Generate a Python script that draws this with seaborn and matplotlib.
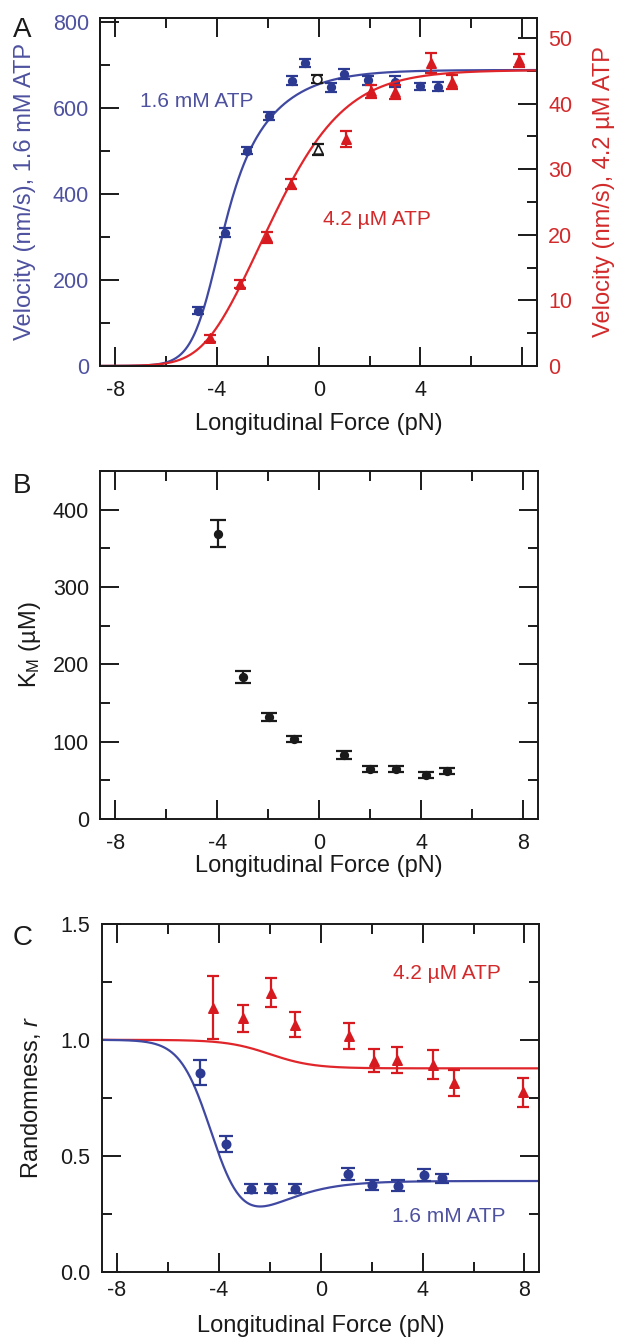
import numpy as np
import pandas as pd
import matplotlib
matplotlib.use("Agg")
import matplotlib.pyplot as plt
import seaborn as sns
from matplotlib.ticker import MultipleLocator, FormatStrFormatter

# colours
BLUE = "#2d3a92"
BLUE_LINE = "#4049a2"
BLUE_TEXT = "#4d519f"
RED = "#d61a20"
RED_LINE = "#e0262b"
RED_TEXT = "#d22a2b"
BLACK = "#1a1a1a"

# ---- Panel A: velocity vs longitudinal force ----
force_a_hi = [-4.76, -3.69, -2.81, -1.95, -1.06, -0.54, 0.50, 1.00, 1.95, 2.98, 4.00, 4.70]
vel_a_hi = [128, 310, 500, 581, 663, 704, 648, 679, 664, 661, 650, 649]
err_a_hi = [8, 10, 8, 10, 10, 10, 10, 12, 10, 12, 8, 10]

force_a_lo = [-4.27, -3.10, -2.05, -1.10, 1.07, 2.05, 2.98, 4.40, 5.25, 7.88]
vel_a_lo = [4.2, 12.5, 19.6, 27.7, 34.6, 41.9, 41.8, 46.2, 43.3, 46.6]
err_a_lo = [0.5, 0.6, 0.8, 0.8, 1.2, 1.0, 1.1, 1.5, 1.1, 1.0]

# open black points near zero force
force_ctrl_hi = [-0.05]
vel_ctrl_hi = [667]
err_ctrl_hi = [10]
force_ctrl_lo = [-0.02]
vel_ctrl_lo = [33.0]
err_ctrl_lo = [0.8]

# fit: v = vmax / (1 + a*exp(-k1*F) + b*exp(-k2*F))
FIT_A_HI = dict(vmax=688, a=1.4e-4, k1=2.21, b=0.0503, k2=0.68)
FIT_A_LO = dict(vmax=45.1, a=0.00207, k1=1.79, b=0.294, k2=0.65)

# ---- Panel B: K_M vs force ----
force_b = [-3.97, -2.99, -1.99, -0.99, 0.98, 1.99, 3.00, 4.19, 5.00]
km_b = [369, 183.5, 131.7, 103.6, 82.9, 64.8, 64.8, 57, 61.8]
err_b = [17, 7.5, 5, 4, 5, 4, 4, 4, 4]

# ---- Panel C: randomness vs force ----
force_c_hi = [-4.75, -3.72, -2.73, -1.95, -1.03, 1.06, 2.02, 3.03, 4.05, 4.77]
rand_c_hi = [0.859, 0.550, 0.358, 0.358, 0.358, 0.421, 0.374, 0.371, 0.417, 0.403]
err_c_hi = [0.054, 0.035, 0.02, 0.02, 0.02, 0.025, 0.02, 0.025, 0.025, 0.02]

force_c_lo = [-4.24, -3.06, -1.95, -1.03, 1.10, 2.11, 3.00, 4.42, 5.25, 7.95]
rand_c_lo = [1.139, 1.093, 1.204, 1.066, 1.017, 0.910, 0.915, 0.892, 0.814, 0.773]
err_c_lo = [0.135, 0.059, 0.061, 0.053, 0.057, 0.049, 0.056, 0.062, 0.056, 0.061]

# fit (1.6 mM): r = (q + t^2)/(1 + t)^2, t = a*exp(-k1*F) + b*exp(-k2*F)
FIT_C_HI = dict(q=0.391, a=4.4e-4, k1=1.9, b=0.0524, k2=0.8)
# fit (4.2 uM): r = r_inf + (1 - r_inf)/(1 + exp((F - f0)/w))
FIT_C_LO = dict(r_inf=0.877, f0=-2.0, w=0.85)

XLIM = (-8.6, 8.58)
force_grid = np.linspace(XLIM[0], XLIM[1], 500)


def velocity_fit(f, vmax, a, k1, b, k2):
    return vmax / (1 + a * np.exp(-k1 * f) + b * np.exp(-k2 * f))


def randomness_fit(f, q, a, k1, b, k2):
    t = a * np.exp(-k1 * f) + b * np.exp(-k2 * f)
    return (q + t ** 2) / (1 + t) ** 2


def sigmoid_fit(f, r_inf, f0, w):
    return r_inf + (1 - r_inf) / (1 + np.exp((f - f0) / w))


def style_axis(ax, ymajor, yminor, right=True):
    ax.xaxis.set_major_locator(MultipleLocator(4))
    ax.xaxis.set_minor_locator(MultipleLocator(2))
    ax.yaxis.set_major_locator(MultipleLocator(ymajor))
    ax.yaxis.set_minor_locator(MultipleLocator(yminor))
    ax.tick_params(which="both", direction="in", top=True, right=right,
                   width=1.4, colors=BLACK)
    ax.tick_params(which="major", length=13.5, labelsize=15.5)
    ax.tick_params(which="minor", length=7)
    ax.tick_params(axis="x", pad=10)
    ax.tick_params(axis="y", pad=8)
    for sp in ax.spines.values():
        sp.set_linewidth(1.4)
        sp.set_color(BLACK)
        sp.set_visible(True)


def points(ax, x, y, err, color, marker, size, cap, filled=True):
    ax.errorbar(x, y, yerr=err, fmt="none", ecolor=color, elinewidth=1.6,
                capsize=cap, capthick=1.6, zorder=3)
    df = pd.DataFrame({"x": x, "y": y})
    sns.scatterplot(data=df, x="x", y="y", ax=ax, marker=marker, s=size,
                    color=color if filled else "white", edgecolor=color,
                    linewidth=1.2, zorder=4, legend=False)


def fit_line(ax, y, color):
    df = pd.DataFrame({"x": force_grid, "y": y})
    sns.lineplot(data=df, x="x", y="y", ax=ax, color=color, linewidth=1.6,
                 sort=False, zorder=2, legend=False)


sns.set_theme(style="ticks")
plt.rcParams["font.family"] = ["Liberation Sans", "DejaVu Sans"]
plt.rcParams["mathtext.fontset"] = "custom"
plt.rcParams["mathtext.rm"] = "Liberation Sans"
plt.rcParams["mathtext.it"] = "Liberation Sans:italic"
plt.rcParams["axes.unicode_minus"] = False

fig = plt.figure(figsize=(6.18, 13.39), dpi=100)
ax_a = fig.add_axes([0.1618, 0.7267, 0.7071, 0.2599])
ax_b = fig.add_axes([0.1618, 0.3884, 0.7087, 0.2599])
ax_c = fig.add_axes([0.1646, 0.0503, 0.7080, 0.2597])

# ---- A ----
ax_a2 = ax_a.twinx()
style_axis(ax_a, 200, 100, right=False)
style_axis(ax_a2, 10, 5)
ax_a2.tick_params(which="both", left=False, top=False)
ax_a.tick_params(axis="y", labelcolor=BLUE_TEXT)
ax_a2.tick_params(axis="y", labelcolor=RED_TEXT)

fit_line(ax_a, velocity_fit(force_grid, **FIT_A_HI), BLUE_LINE)
fit_line(ax_a2, velocity_fit(force_grid, **FIT_A_LO), RED_LINE)
points(ax_a, force_a_hi, vel_a_hi, err_a_hi, BLUE, "o", 30, 4.5)
points(ax_a, force_ctrl_hi, vel_ctrl_hi, err_ctrl_hi, BLACK, "o", 40, 4.5, filled=False)
points(ax_a2, force_a_lo, vel_a_lo, err_a_lo, RED, "^", 45, 4.5)
points(ax_a2, force_ctrl_lo, vel_ctrl_lo, err_ctrl_lo, BLACK, "^", 45, 4.5, filled=False)

ax_a.set_xlim(*XLIM)
ax_a.set_ylim(0, 809)
ax_a2.set_ylim(0, 53.05)
ax_a.set_xticks([-8, -4, 0, 4, 8], labels=["-8", "-4", "0", "4", ""])
ax_a.set_xlabel("Longitudinal Force (pN)", fontsize=17, color=BLACK)
ax_a.set_ylabel("Velocity (nm/s), 1.6 mM ATP", fontsize=17, color=BLUE_TEXT)
ax_a2.set_ylabel("Velocity (nm/s), 4.2 µM ATP", fontsize=17, color=RED_TEXT,
                 rotation=90)
ax_a.xaxis.set_label_coords(0.5, -0.135)
ax_a.yaxis.set_label_coords(-0.146, 0.5)
ax_a2.yaxis.set_label_coords(1.128, 0.5)
ax_a.text(-4.8, 614, "1.6 mM ATP", color=BLUE_TEXT, fontsize=15,
          ha="center", va="center")
ax_a2.text(2.29, 22.3, "4.2 µM ATP", color=RED_TEXT, fontsize=15,
           ha="center", va="center")

# ---- B ----
style_axis(ax_b, 100, 50)
points(ax_b, force_b, km_b, err_b, BLACK, "o", 30, 5.5)
ax_b.set_xlim(*XLIM)
ax_b.set_ylim(0, 450)
ax_b.set_xlabel("Longitudinal Force (pN)", fontsize=17, color=BLACK)
ax_b.set_ylabel(r"K$_\mathregular{M}$ (µM)", fontsize=17, color=BLACK)
ax_b.xaxis.set_label_coords(0.5, -0.103)
ax_b.yaxis.set_label_coords(-0.130, 0.5)

# ---- C ----
style_axis(ax_c, 0.5, 0.25)
fit_line(ax_c, sigmoid_fit(force_grid, **FIT_C_LO), RED_LINE)
fit_line(ax_c, randomness_fit(force_grid, **FIT_C_HI), BLUE_LINE)
points(ax_c, force_c_lo, rand_c_lo, err_c_lo, RED, "^", 45, 4.3)
points(ax_c, force_c_hi, rand_c_hi, err_c_hi, BLUE, "o", 36, 4.8)
ax_c.set_xlim(*XLIM)
ax_c.set_ylim(0, 1.5)
ax_c.yaxis.set_major_formatter(FormatStrFormatter("%.1f"))
ax_c.set_xlabel("Longitudinal Force (pN)", fontsize=17, color=BLACK)
ax_c.set_ylabel(r"Randomness, $\mathit{r}$", fontsize=17, color=BLACK)
ax_c.xaxis.set_label_coords(0.5, -0.125)
ax_c.yaxis.set_label_coords(-0.134, 0.5)
ax_c.tick_params(axis="x", pad=6)
ax_c.text(4.97, 1.284, "4.2 µM ATP", color=RED_TEXT, fontsize=15,
          ha="center", va="center")
ax_c.text(5.03, 0.240, "1.6 mM ATP", color=BLUE_TEXT, fontsize=15,
          ha="center", va="center")

# panel letters
for letter, base in [("A", 37), ("B", 493), ("C", 945)]:
    fig.text(13 / 618, 1 - base / 1339, letter, fontsize=20, color=BLACK,
             ha="left", va="baseline")

fig.savefig("out.png", dpi=100)
